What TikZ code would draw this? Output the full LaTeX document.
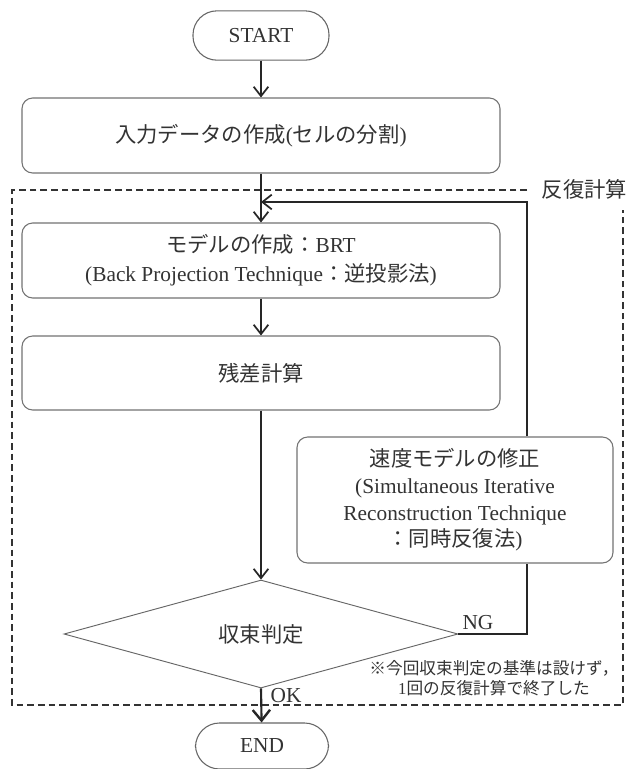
\documentclass[tikz,border=0pt]{standalone}
\usepackage{fontspec}
\setmainfont{Liberation Serif}
\newfontfamily\jp{Noto Sans CJK JP}
\usetikzlibrary{arrows.meta,shapes.geometric}
\newcommand{\J}[1]{{\jp #1}}
\begin{document}
\begin{tikzpicture}[x=0.75pt,y=-0.75pt,
  every node/.style={text=black!80,font=\fontsize{16}{22}\selectfont},
  term/.style={draw=black!60,line width=0.8pt,rounded corners=18pt,minimum width=102pt,minimum height=37pt},
  procbox/.style={draw=black!55,line width=0.8pt,rounded corners=8pt,align=center},
  decision/.style={diamond,draw=black!60,line width=0.7pt,inner sep=0pt,minimum width=295.5pt,minimum height=81pt},
  flow/.style={draw=black!85,line width=1.3pt,-{Straight Barb[length=7pt,width=11pt,line width=1.3pt]}},
  link/.style={draw=black!85,line width=1.3pt},
  frame/.style={draw=black!80,line width=1.1pt,dash pattern=on 5pt off 3pt}]
\useasboundingbox (0,0) rectangle (634,769);
\fill[white] (0,0) rectangle (634,769);

\node[term] (start) at (261,35.5) {START};
\node[procbox,minimum width=358.5pt,minimum height=56.25pt] (input) at (261,135.5) {\J{入力データの作成}(\J{セルの分割})};
\node[procbox,minimum width=358.5pt,minimum height=56.25pt] (model) at (261,260.5) {\J{モデルの作成：}BRT\\(Back Projection Technique\J{：逆投影法})};
\node[procbox,minimum width=358.5pt,minimum height=55.5pt] (resid) at (261,373) {\J{残差計算}};
\node[procbox,minimum width=237pt,minimum height=94.5pt,font=\fontsize{16}{20}\selectfont] (fix) at (455,500) {\J{速度モデルの修正}\\(Simultaneous Iterative\\Reconstruction Technique\\\J{：同時反復法})};
\node[decision] (judge) at (261,634) {\J{収束判定}};
\node[term,minimum width=99.75pt,minimum height=34.5pt] (end) at (262,746) {END};

\coordinate (merge) at (261,202);
\coordinate (c1) at (527,634);
\coordinate (c2) at (527,202);
\coordinate (fa) at (527,190);
\coordinate (fb) at (12,190);
\coordinate (fc) at (12,705);
\coordinate (fd) at (623,705);
\coordinate (fe) at (623,210);

\draw[frame] (fa) -- (fb) -- (fc) -- (fd) -- (fe);
\node[anchor=west] (iterlabel) at (537,189) {\J{反復計算}};

\draw[flow] (start) -- (input);
\draw[flow] (input) -- (model);
\draw[flow] (model) -- (resid);
\draw[flow] (resid) -- (judge);
\draw[flow,line width=1.6pt,-{Straight Barb[length=8pt,width=13pt,line width=1.8pt]}] (judge.south) -- (end);
\draw[link] (judge.east) -- (c1) -- (c1 |- fix.south);
\draw[flow] (c1 |- fix.north) -- (c2) -- (merge);

\node[anchor=south] (nglabel) at (478,634) {NG};
\node[anchor=west] (oklabel) at (266,696) {OK};
\node[align=center,font=\fontsize{12.5}{15}\selectfont] (note) at (494,678) {\J{※今回収束判定の基準は設けず，}\\1\J{回の反復計算で終了した}};
\end{tikzpicture}
\end{document}
